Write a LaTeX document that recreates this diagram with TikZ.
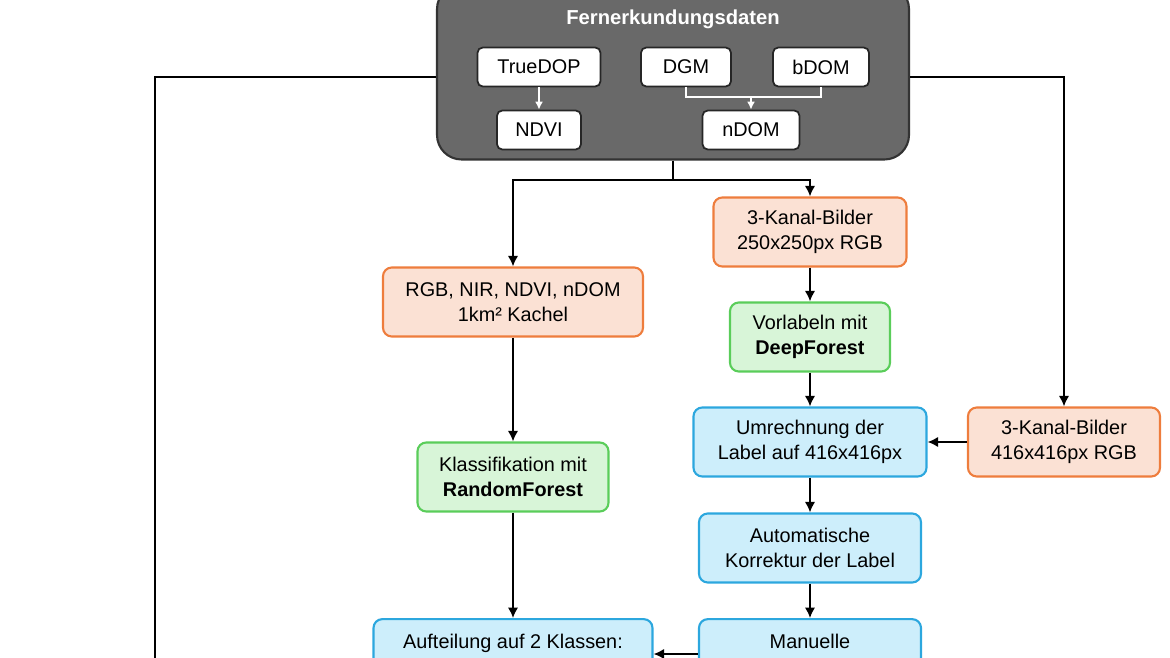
\documentclass[tikz,border=0pt]{standalone}
\usepackage{fontspec}
\setmainfont{Liberation Sans}
\usetikzlibrary{arrows.meta,positioning}
\definecolor{boxgray}{HTML}{696969}
\definecolor{orangeline}{HTML}{EE7D3D}
\definecolor{orangefill}{HTML}{FBE1D4}
\definecolor{greenline}{HTML}{5ACD5A}
\definecolor{greenfill}{HTML}{D8F5D8}
\definecolor{blueline}{HTML}{2CA7DE}
\definecolor{bluefill}{HTML}{CDEEFB}
\begin{document}
\begin{tikzpicture}
        [x=0.02cm, y=-0.02cm,
        >={Latex[length=6pt,width=6pt]},
        font=\fontsize{11.3}{14}\selectfont,
        every node/.style={align=center, inner sep=2pt},
        source/.style={draw=black!85, fill=white, rounded corners=3pt, line width=1pt, minimum height=39*0.02cm},
        stage box/.style={rounded corners=5pt, line width=1.2pt, minimum height=69*0.02cm},
        data/.style={stage box, draw=orangeline, fill=orangefill},
        model/.style={stage box, draw=greenline, fill=greenfill},
        proc/.style={stage box, draw=blueline, fill=bluefill},
        flow/.style={->, line width=1.5pt},
        inner flow/.style={->, draw=white, line width=1pt, >={Latex[length=4.5pt,width=4.5pt]}}]

        \clip (0,0) rectangle (1170,658);

        % remote sensing block
        \node[fill=boxgray, draw=black!80, line width=1.2pt, rounded corners=14pt,
              minimum width=472*0.02cm, minimum height=175*0.02cm] (rs) at (673,72) {};
        \node[text=white, font=\fontsize{11.5}{14}\selectfont\bfseries] (title) at (673,19) {Fernerkundungsdaten};
        \node[source, minimum width=123*0.02cm] (tdop) at (539,67) {TrueDOP};
        \node[source, minimum width=90*0.02cm] (dgm) at (686,67) {DGM};
        \node[source, minimum width=96*0.02cm] (bdom) at (821,67) {bDOM};
        \node[source, minimum width=84*0.02cm] (ndvi) at (539,130) {NDVI};
        \node[source, minimum width=97*0.02cm] (ndom) at (751,130) {nDOM};
        \coordinate (join) at (751,97);
        \draw[inner flow] (tdop) -- (ndvi);
        \draw[white, line width=1pt] (dgm.south) |- (join) -| (bdom.south);
        \draw[inner flow] (join) -- (ndom);

        % processing chain
        \node[data, minimum width=193*0.02cm] (kanal) at (810,232) {3-Kanal-Bilder\\250x250px RGB};
        \node[data, minimum width=260*0.02cm] (tile) at (513,302) {RGB, NIR, NDVI, nDOM\\1km² Kachel};
        \node[model, minimum width=160*0.02cm] (deep) at (810,337) {Vorlabeln mit\\\textbf{DeepForest}};
        \node[proc, minimum width=233*0.02cm] (calc) at (810,442) {Umrechnung der\\Label auf 416x416px};
        \node[data, minimum width=192*0.02cm] (kanalb) at (1064,442) {3-Kanal-Bilder\\416x416px RGB};
        \node[model, minimum width=191*0.02cm] (rf) at (513,477) {Klassifikation mit\\\textbf{RandomForest}};
        \node[proc, minimum width=222*0.02cm] (auto) at (810,548) {Automatische\\Korrektur der Label};
        \node[proc, minimum width=279*0.02cm, text height=14.7pt, text depth=21pt] (split) at (513,654) {Aufteilung auf 2 Klassen:};
        \node[proc, minimum width=222*0.02cm, text height=14.7pt, text depth=21pt] (manual) at (810,654) {Manuelle};

        \coordinate (fork) at (673,180);
        \coordinate (leftdown) at (155,700);
        \draw[line width=1.5pt] (rs.south -| fork) -- (fork);
        \draw[flow] (fork) -| (tile);
        \draw[flow] (fork) -| (kanal);
        \draw[line width=1.5pt] (rs.west |- 0,77) -| (leftdown);
        \draw[flow] (rs.east |- 0,77) -| (kanalb);
        \draw[flow] (kanal) -- (deep);
        \draw[flow] (deep) -- (calc);
        \draw[flow] (kanalb) -- (calc);
        \draw[flow] (calc) -- (auto);
        \draw[flow] (auto) -- (manual);
        \draw[flow] (tile) -- (rf);
        \draw[flow] (rf) -- (split);
        \draw[flow] (manual) -- (split);
\end{tikzpicture}
\end{document}
